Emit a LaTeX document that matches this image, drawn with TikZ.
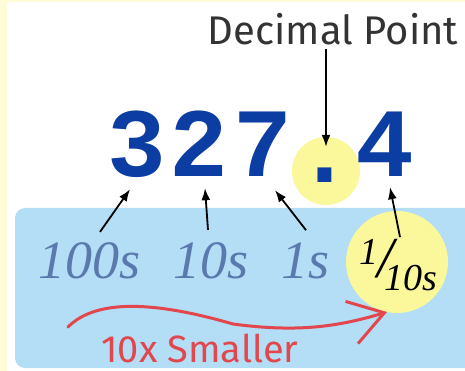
\documentclass[tikz,border=0pt]{standalone}
\usepackage{fontspec}
\usetikzlibrary{arrows.meta,calc}
\newfontfamily\mono{Liberation Mono}
\newfontfamily\hand{Fira Sans}
\newfontfamily\tserif{Liberation Serif}
\definecolor{ziffblau}{HTML}{0B3DA2}
\definecolor{tafelblau}{HTML}{B4DDF6}
\definecolor{gelb}{HTML}{FAF89A}
\definecolor{schiefer}{HTML}{5A7AAE}
\definecolor{rot}{HTML}{E2474E}
\definecolor{dunkel}{HTML}{333333}
\tikzset{
  ziffer/.style={ziffblau,inner sep=0pt,anchor=base,font=\mono\bfseries\fontsize{98}{98}\selectfont},
  stelle/.style={schiefer,inner sep=2pt,anchor=base,font=\tserif\itshape\fontsize{54}{54}\selectfont},
  fleck/.style={circle,fill=gelb,inner sep=0pt},
  pfeil/.style={-{Latex[length=12pt,width=9pt]},black,line width=1.8pt},
  kurve/.style={-{Straight Barb[length=34pt,width=44pt]},rot,line width=3pt,line cap=round},
  tafel/.style={fill=tafelblau,rounded corners=10pt},
}

\begin{document}
\begin{tikzpicture}[x=1pt,y=-1pt]
  \useasboundingbox (0,0) rectangle (465,371);
  % background and panel
  \fill[gelb!40] (0,0) rectangle (465,371);
  \fill[white] (7,2) rectangle (465,371);
  \fill[tafel] (15,208) rectangle (480,368);
  % yellow spots
  \node[fleck,minimum size=68pt] (ring) at (326,171) {};
  \node[fleck,minimum size=102pt] (ring2) at (397,262) {};
  % the number
  \node[ziffer] (d3) at (137,177) {3};
  \node[ziffer] (d2) at (199,177) {2};
  \node[ziffer] (d7) at (263,177) {7};
  \node[ziffer] (dp) at (325,183) {.};
  \node[ziffer] (d4) at (385,177) {4};
  \node[dunkel,anchor=base,font=\hand\fontsize{40}{40}\selectfont] (dplab) at (333,45) {Decimal Point};
  % place values
  \node[stelle] (hund) at (90,278) {100s};
  \node[stelle] (zehn) at (211,278) {10s};
  \node[stelle] (eins) at (306,278) {1s};
  \node[black,inner sep=0pt,font=\tserif\itshape\fontsize{38}{38}\selectfont] (zehntel) at (398,265)
    {\raisebox{13pt}{1}\kern-1pt{\fontsize{58}{58}\selectfont/}\kern-9pt\raisebox{-13pt}{10s}};
  % arrows
  \draw[pfeil] (dplab.south -| ring.north) -- ([yshift=-10pt]ring.north);
  \draw[pfeil] ([xshift=10pt,yshift=8pt]hund.north) -- ([xshift=-7pt,yshift=-11pt]d3.south);
  \draw[pfeil] ([xshift=-3pt,yshift=10pt]zehn.north) -- ([xshift=6pt,yshift=-11pt]d2.south);
  \draw[pfeil] ([yshift=10pt]eins.north) -- ([xshift=12pt,yshift=-13pt]d7.south);
  \draw[pfeil] ([xshift=2pt,yshift=2pt]zehntel.north) -- ([xshift=5pt,yshift=-10pt]d4.south);
  % ten times smaller
  \coordinate (rstart) at (68,327);
  \coordinate (rend) at (387,312);
  \draw[kurve] (rstart) .. controls (95,300) and (150,300) .. (233,324)
    .. controls (300,333) and (340,326) .. (rend);
  \node[rot,inner sep=0pt,anchor=base,font=\hand\fontsize{38}{38}\selectfont] (klein) at (200,362) {10x Smaller};
\end{tikzpicture}
\end{document}
